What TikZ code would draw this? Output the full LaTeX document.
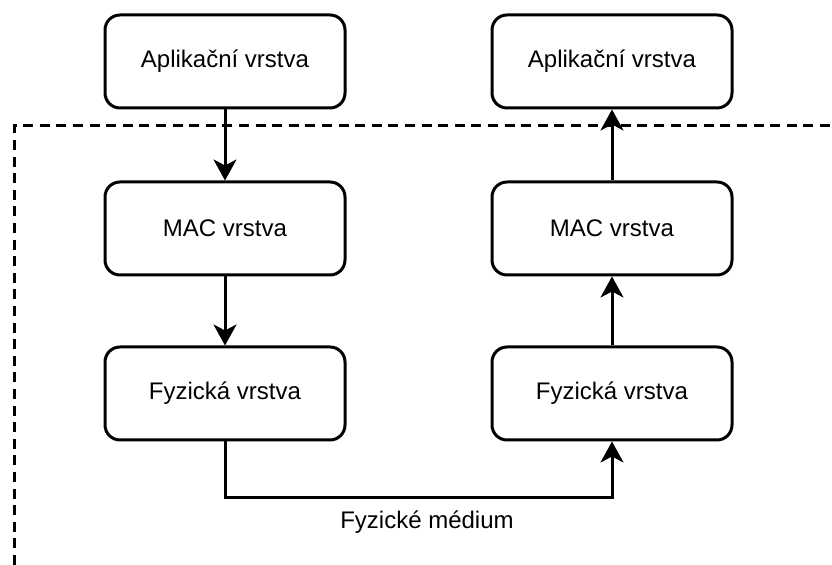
\documentclass[tikz,border=0pt]{standalone}
\usepackage{fontspec}
\setmainfont{Liberation Sans}
\usetikzlibrary{arrows.meta}
\tikzset{
    layer/.style={draw, line width=1.5pt, rounded corners=7.5pt,
        minimum width=120pt, minimum height=46.5pt, font=\fontsize{12}{14}\selectfont},
    link/.style={line width=1.5pt, -{Stealth[length=10.5pt, width=11.5pt, inset=3pt]}},
    border/.style={line width=1.5pt, dash pattern=on 5pt off 3.3pt}
}
\begin{document}
\begin{tikzpicture}[x=0.5pt, y=-0.5pt]
    \useasboundingbox (0, 0) rectangle (832, 565);
    % boundary of the device
    \draw[border] (14, 565) -- (14, 126) -- (832, 126);
    % sender
    \node[layer] (appL) at (225, 61.5) {Aplikační vrstva};
    \node[layer] (macL) at (225, 228.5) {MAC vrstva};
    \node[layer] (phyL) at (225, 393.5) {Fyzická vrstva};
    % receiver
    \node[layer] (appR) at (612, 61.5) {Aplikační vrstva};
    \node[layer] (macR) at (612, 228.5) {MAC vrstva};
    \node[layer] (phyR) at (612, 393.5) {Fyzická vrstva};
    \draw[link] (appL) -- (macL);
    \draw[link] (macL) -- (phyL);
    \draw[link] (macR) -- (appR);
    \draw[link] (phyR) -- (macR);
    \draw[link] (phyL.south) -- ++(0, 56) -| (phyR.south);
    \node[font=\fontsize{12}{14}\selectfont] (medium) at (427, 522) {Fyzické médium};
\end{tikzpicture}
\end{document}
